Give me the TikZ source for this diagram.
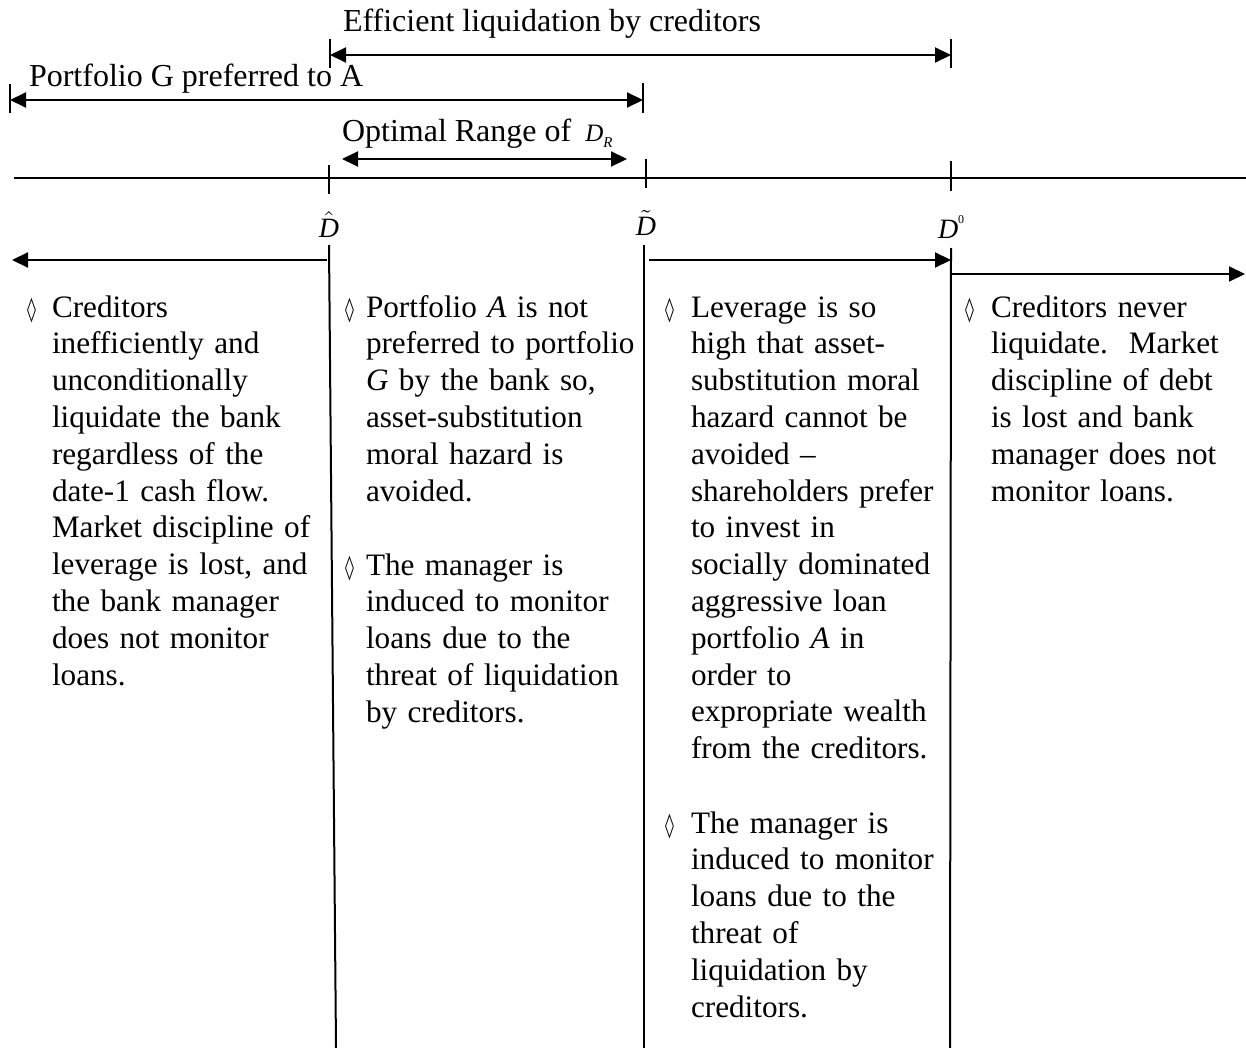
\documentclass[tikz,border=0pt]{standalone}
\usepackage{fontspec}
\usepackage{graphicx}
\setmainfont{Liberation Serif}
\newfontfamily\lozfont{DejaVu Sans}
\usetikzlibrary{arrows.meta}

\newcommand{\bodysize}{\fontsize{16pt}{18.4pt}\selectfont}
\newcommand{\colsize}{\fontsize{15.6pt}{18.4pt}\selectfont}
\newcommand{\labsize}{\fontsize{14pt}{16pt}\selectfont}
\newcommand{\loz}{\scalebox{0.75}[1]{\lozfont\bfseries ◊}}

\tikzset{
  rangearr/.style={{Triangle[length=8pt,width=7.5pt]}-{Triangle[length=8pt,width=7.5pt]}},
  onearr/.style={-{Triangle[length=8pt,width=7.5pt]}},
  toplabel/.style={anchor=base west, inner sep=0pt, font=\bodysize},
  dlabel/.style={anchor=base, inner sep=0pt, font=\labsize},
  coltext/.style={anchor=base west, inner sep=0pt, text width=150pt, align=left, font=\colsize},
  bulletmark/.style={anchor=base west, inner sep=0pt, font=\fontsize{12pt}{14pt}\selectfont}
}

\begin{document}
\begin{tikzpicture}[x=0.5pt, y=-0.5pt, line width=1pt]
\useasboundingbox (0,0) rectangle (1246,1048);

% Efficient liquidation
\node[toplabel] (efftext) at (342,32) {Efficient liquidation by creditors};
\coordinate (effL) at (330,55);
\coordinate (effR) at (951,55);
\draw[rangearr] (effL) -- (effR);
\draw (effL) ++(0,-16) -- ++(0,29);
\draw (effR) ++(0,-16) -- ++(0,29);

% Portfolio G preferred to A
\node[toplabel] (preftext) at (28,87) {Portfolio G preferred to A};
\coordinate (prefL) at (10,100);
\coordinate (prefR) at (643,100);
\draw[rangearr] (prefL) -- (prefR);
\draw (prefL) ++(0,-16) -- ++(0,29);
\draw (prefR) ++(0,-17) -- ++(0,30);

% Optimal range
\node[toplabel] (opttext) at (341,142) {Optimal Range of \hspace{3pt}{\fontsize{12.5pt}{13pt}\selectfont\textit{D}\raisebox{-3pt}{\fontsize{7.5pt}{8pt}\selectfont\textit{R}}}};
\coordinate (optL) at (342,159);
\coordinate (optR) at (627,159);
\draw[rangearr] (optL) -- (optR);

% Axis
\coordinate (axisL) at (14,178);
\coordinate (axisR) at (1246,178);
\draw (axisL) -- (axisR);
\coordinate (dhat) at (329,178);
\coordinate (dtil) at (646,178);
\coordinate (dzero) at (951,178);
\draw (dhat) ++(0,-13) -- ++(0,29);
\draw (dtil) ++(0,-19) -- ++(0,29);
\draw (dzero) ++(0,-17) -- ++(0,30);

% D labels
\node[dlabel] (dhatlab) at (329,237) {$\hat{\mbox{\textit{D}}}$};
\node[dlabel] (dtillab) at (646,235) {$\tilde{\mbox{\textit{D}}}$};
\node[dlabel, anchor=base west] (dzerolab) at (937,239) {\textit{D}\raisebox{8pt}{\fontsize{6pt}{7pt}\selectfont 0}};

% Region borders
\coordinate (v1top) at (329,245);
\coordinate (v1bot) at (336,1048);
\coordinate (v2top) at (644,245);
\coordinate (v2bot) at (644,1048);
\coordinate (v3top) at (951,248);
\coordinate (v3bot) at (950,1048);
\draw (v1top) -- (v1bot);
\draw (v2top) -- (v2bot);
\draw (v3top) -- (v3bot);

% Region arrows
\coordinate (lowA) at (327,260);
\coordinate (lowB) at (12,260);
\coordinate (midA) at (649,260);
\coordinate (midB) at (951,260);
\coordinate (highA) at (951,274);
\coordinate (highB) at (1245,274);
\draw[onearr] (lowA) -- (lowB);
\draw[onearr] (midA) -- (midB);
\draw[onearr] (highA) -- (highB);

% Column 1
\node[bulletmark] (bul1) at (26,317) {\loz};
\node[coltext] (col1) at (51,317) {Creditors\\ inefficiently and\\ unconditionally\\ liquidate the bank\\ regardless of the\\ date-1 cash flow.\\ Market discipline of\\ leverage is lost, and\\ the bank manager\\ does not monitor\\ loans.};

% Column 2
\node[bulletmark] (bul2a) at (344,317) {\loz};
\node[coltext] (col2a) at (365,317) {Portfolio \textit{A} is not\\ preferred to portfolio\\ \textit{G} by the bank so,\\ asset-substitution\\ moral hazard is\\ avoided.};
\node[bulletmark] (bul2b) at (344,575) {\loz};
\node[coltext] (col2b) at (365,575) {The manager is\\ induced to monitor\\ loans due to the\\ threat of liquidation\\ by creditors.};

% Column 3
\node[bulletmark] (bul3a) at (664,317) {\loz};
\node[coltext] (col3a) at (690,317) {Leverage is so\\ high that asset-\\ substitution moral\\ hazard cannot be\\ avoided --\\ shareholders prefer\\ to invest in\\ socially dominated\\ aggressive loan\\ portfolio \textit{A} in\\ order to\\ expropriate wealth\\ from the creditors.};
\node[bulletmark] (bul3b) at (664,833) {\loz};
\node[coltext] (col3b) at (690,833) {The manager is\\ induced to monitor\\ loans due to the\\ threat of\\ liquidation by\\ creditors.};

% Column 4
\node[bulletmark] (bul4) at (964,317) {\loz};
\node[coltext] (col4) at (990,317) {Creditors never\\ liquidate.\ \ Market\\ discipline of debt\\ is lost and bank\\ manager does not\\ monitor loans.};
\end{tikzpicture}
\end{document}
